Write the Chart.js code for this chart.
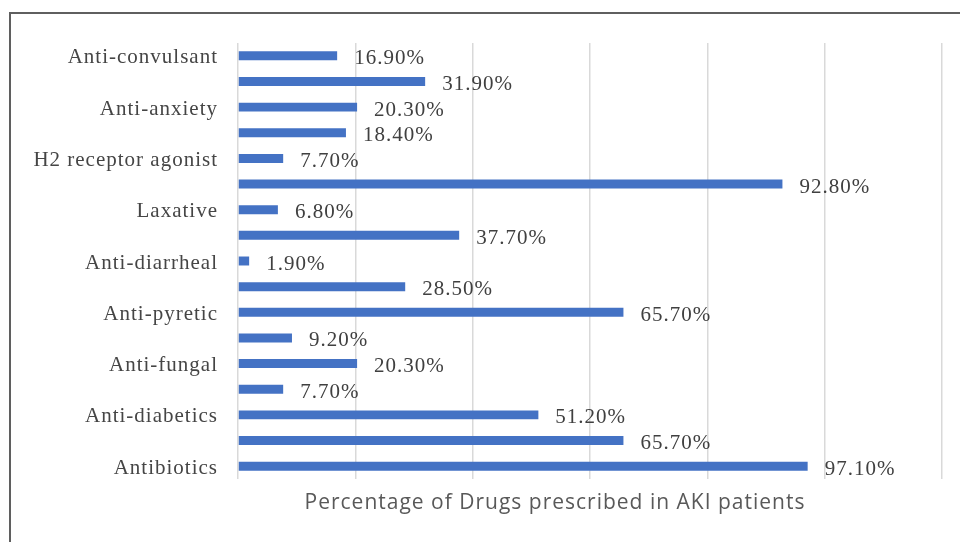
<!DOCTYPE html>
<html>
<head>
<meta charset="utf-8">
<title>Drugs prescribed in AKI patients</title>
<script src="https://cdn.jsdelivr.net/npm/chart.js@4"></script>
<style>
  html, body { margin: 0; padding: 0; background: #fff; }
  #wrap { position: relative; width: 960px; height: 542px; overflow: hidden; }
  #frame {
    position: absolute; left: 9px; top: 12px; width: 980px; height: 560px;
    border-top: 2px solid #5f5f5f; border-left: 2px solid #5f5f5f;
    pointer-events: none;
  }
</style>
</head>
<body>
<div id="wrap">
  <canvas id="chart" width="960" height="542"></canvas>
  <div id="frame"></div>
</div>
<script>
// Drug classes, top row first; only every other row carries a name label
const categories = [
  'Anti-convulsant', '', 'Anti-anxiety', '', 'H2 receptor agonist', '',
  'Laxative', '', 'Anti-diarrheal', '', 'Anti-pyretic', '',
  'Anti-fungal', '', 'Anti-diabetics', '', 'Antibiotics'
];

// Percentage of patients prescribed each class
const percentages = [
  16.9, 31.9, 20.3, 18.4, 7.7, 92.8,
  6.8, 37.7, 1.9, 28.5, 65.7, 9.2,
  20.3, 7.7, 51.2, 65.7, 97.1
];

const axisTitle = 'Percentage of Drugs prescribed in AKI patients';

const textColor = '#454545';
const serif = "'Liberation Serif', 'Times New Roman', serif";

// Value labels to the right of each bar
const barValueLabels = {
  id: 'barValueLabels',
  afterDatasetsDraw(chart) {
    const ctx = chart.ctx;
    const meta = chart.getDatasetMeta(0);
    ctx.save();
    ctx.letterSpacing = '1px';
    ctx.font = '21px ' + serif;
    ctx.fillStyle = '#404040';
    ctx.textAlign = 'left';
    ctx.textBaseline = 'middle';
    meta.data.forEach((bar, i) => {
      ctx.fillText(percentages[i].toFixed(2) + '%', bar.x + 17, bar.y + 3);
    });
    ctx.restore();
  }
};

// Axis caption under the plot
const captionPlugin = {
  id: 'caption',
  afterDraw(chart) {
    const ctx = chart.ctx;
    ctx.save();
    ctx.letterSpacing = '1px';
    ctx.font = "21px 'Open Sans', 'Liberation Sans', sans-serif";
    ctx.fillStyle = '#595959';
    ctx.textAlign = 'center';
    ctx.textBaseline = 'middle';
    ctx.fillText(axisTitle, 555, 503);
    ctx.restore();
  }
};

// Wider letter spacing for the category names
const spacingPlugin = {
  id: 'spacing',
  beforeDraw(chart) { chart.ctx.letterSpacing = '1px'; }
};

new Chart(document.getElementById('chart'), {
  type: 'bar',
  data: {
    labels: categories,
    datasets: [{
      data: percentages,
      backgroundColor: '#4472C4',
      borderWidth: 0,
      categoryPercentage: 1,
      barPercentage: 0.35
    }]
  },
  options: {
    indexAxis: 'y',
    responsive: false,
    animation: false,
    layout: { padding: { top: 43, right: 18, bottom: 0, left: 0 } },
    plugins: {
      legend: { display: false },
      tooltip: { enabled: false }
    },
    scales: {
      x: {
        min: 0,
        max: 120,
        ticks: { display: false, stepSize: 20 },
        grid: { color: '#d9d9d9', lineWidth: 1.5, drawTicks: false },
        border: { display: false },
        afterFit(scale) { scale.height = 63; }
      },
      y: {
        ticks: {
          color: textColor,
          font: { family: serif, size: 21 },
          padding: 20,
          labelOffset: 2,
          autoSkip: false
        },
        grid: { display: false, drawTicks: false },
        border: { display: false },
        afterFit(scale) { scale.width = 238; }
      }
    }
  },
  plugins: [spacingPlugin, barValueLabels, captionPlugin]
});
</script>
</body>
</html>
